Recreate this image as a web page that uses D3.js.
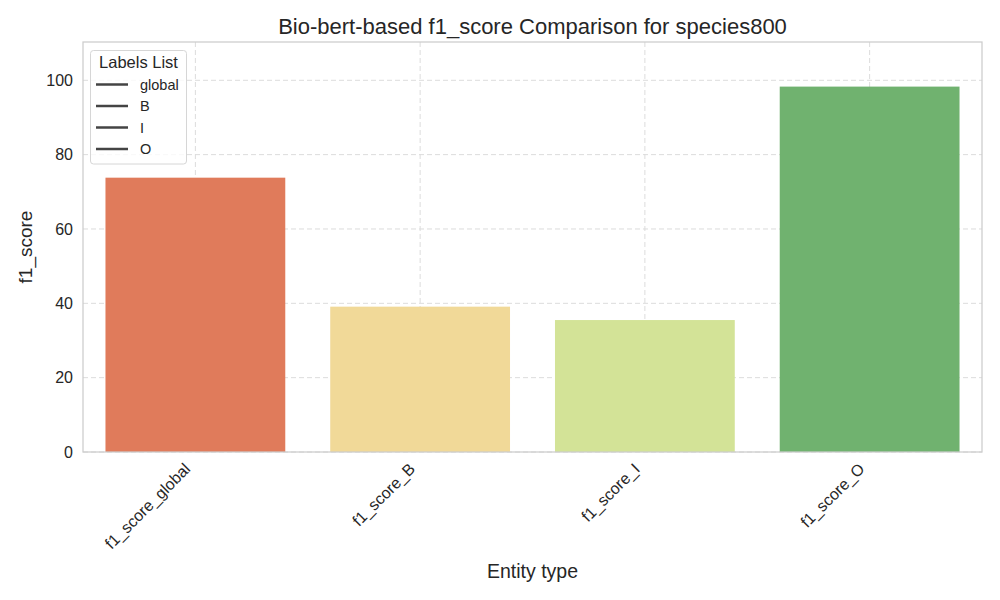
<!DOCTYPE html>
<html><head><meta charset="utf-8">
<script src="https://cdn.jsdelivr.net/npm/d3@7"></script>
<style>body{margin:0;background:#fff;} text{font-family:"Liberation Sans",Arial,sans-serif;fill:#262626;}</style>
</head><body>
<svg id="c" width="1000" height="600"></svg>
<script>
const categories = ["f1_score_global","f1_score_B","f1_score_I","f1_score_O"];
const values = [73.8, 39.1, 35.5, 98.3];
const colors = ["#e07b5b","#f1d998","#d3e397","#70b26f"];
const yTicks = [0,20,40,60,80,100];
const legendLabels = ["global","B","I","O"];

const svg = d3.select("#c");
const m = {l:83, r:982, t:42, b:452};
const x = d3.scaleBand().domain(categories).range([m.l, m.r]).paddingInner(0.2).paddingOuter(0.1);
const y = d3.scaleLinear().domain([0,110.3]).range([m.b, m.t]);

// grid
const g = svg.append("g");
g.selectAll(".gy").data(yTicks).join("line")
  .attr("x1",m.l).attr("x2",m.r).attr("y1",d=>y(d)).attr("y2",d=>y(d))
  .attr("stroke","#dcdcdc").attr("stroke-width",1).attr("stroke-dasharray","5,3");
g.selectAll(".gx").data(categories).join("line")
  .attr("x1",d=>x(d)+x.bandwidth()/2).attr("x2",d=>x(d)+x.bandwidth()/2).attr("y1",m.t).attr("y2",m.b)
  .attr("stroke","#dcdcdc").attr("stroke-width",1).attr("stroke-dasharray","5,3");

// bars
svg.selectAll(".bar").data(categories).join("rect")
  .attr("x",d=>x(d)).attr("width",x.bandwidth())
  .attr("y",(d,i)=>y(values[i])).attr("height",(d,i)=>y(0)-y(values[i]))
  .attr("fill",(d,i)=>colors[i]);

// frame
svg.append("rect").attr("x",m.l).attr("y",m.t).attr("width",m.r-m.l).attr("height",m.b-m.t)
  .attr("fill","none").attr("stroke","#cccccc").attr("stroke-width",1.25);

// y axis
const ya = svg.append("g").attr("transform",`translate(${m.l},0)`)
  .call(d3.axisLeft(y).tickValues(yTicks).tickSize(0).tickPadding(10));
ya.select(".domain").remove();
ya.selectAll("text").style("font-size","16px").attr("fill","#262626");

// x axis
const xa = svg.append("g").attr("transform",`translate(0,${m.b})`)
  .call(d3.axisBottom(x).tickSize(0).tickPadding(0));
xa.select(".domain").remove();
xa.selectAll("text").style("font-size","16px").attr("fill","#262626")
  .attr("text-anchor","end").attr("dy","0").attr("y",0).attr("transform","translate(-4,18) rotate(-45)");

// labels
svg.append("text").attr("x",(m.l+m.r)/2).attr("y",578).attr("text-anchor","middle").style("font-size","19.5px").text("Entity type");
svg.append("text").attr("transform",`translate(32,${(m.t+m.b)/2}) rotate(-90)`).attr("text-anchor","middle").style("font-size","19px").text("f1_score");
svg.append("text").attr("x",(m.l+m.r)/2).attr("y",34).attr("text-anchor","middle").style("font-size","22px").text("Bio-bert-based f1_score Comparison for species800");

// legend
const lg = svg.append("g");
lg.append("rect").attr("x",90.5).attr("y",50.5).attr("width",96).attr("height",113.5).attr("rx",3)
  .attr("fill","#fff").attr("fill-opacity",0.8).attr("stroke","#d6d6d6");
lg.append("text").attr("x",138.5).attr("y",68).attr("text-anchor","middle").style("font-size","16.5px").text("Labels List");
lg.selectAll(".li").data(legendLabels).join("g").each(function(d,i){
  const yy = 84.5 + i*21.5;
  d3.select(this).append("line").attr("x1",96).attr("x2",128).attr("y1",yy).attr("y2",yy).attr("stroke","#444").attr("stroke-width",2.5);
  d3.select(this).append("text").attr("x",140).attr("y",yy+5).style("font-size","14.5px").text(d);
});
</script>
</body></html>
